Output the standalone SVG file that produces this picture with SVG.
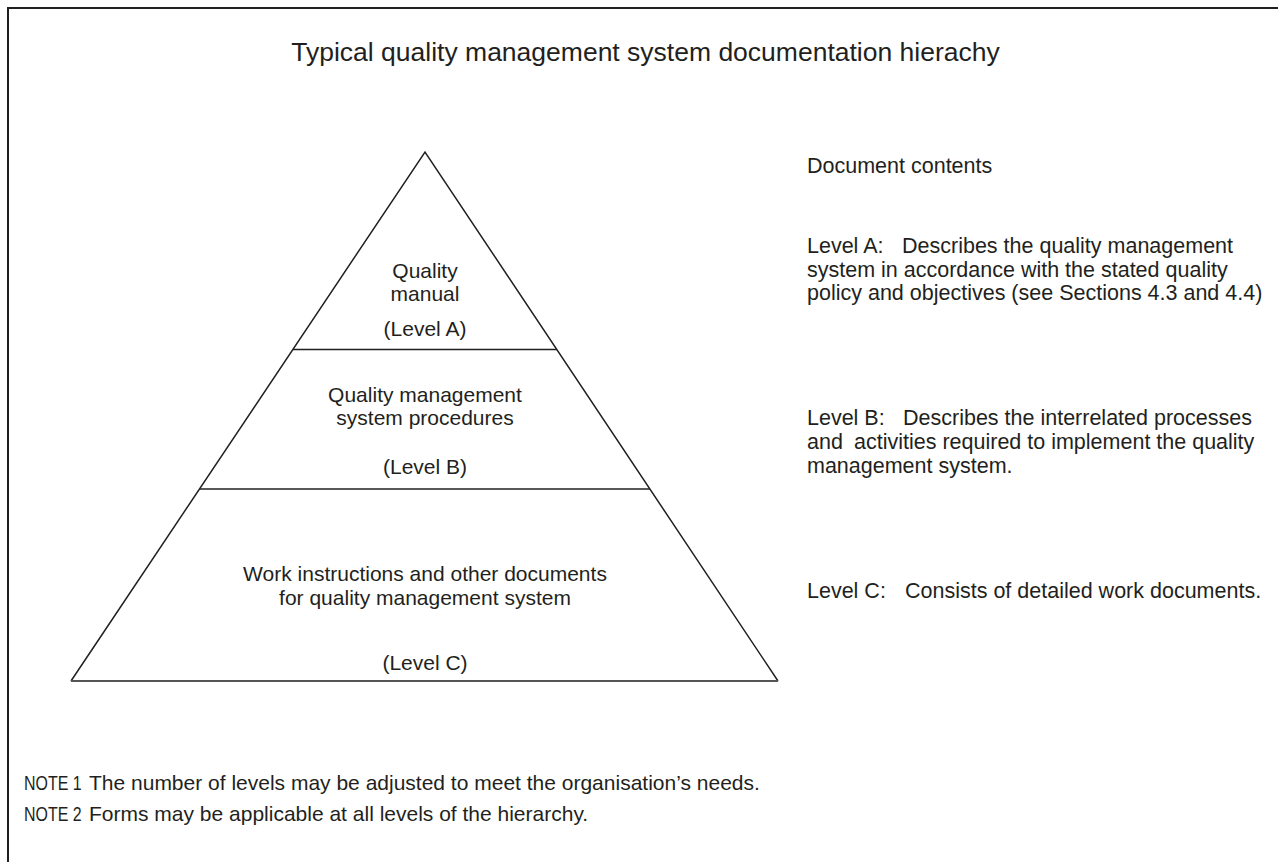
<svg xmlns="http://www.w3.org/2000/svg" width="1278" height="862" viewBox="0 0 1278 862">
<style>
text{font-family:"Liberation Sans",Arial,sans-serif;fill:#231f20;font-size:21.5px}
.c{text-anchor:middle}
.p{font-size:21px}
.t{font-size:26.5px}
.n{font-size:21px}
.ln{stroke:#231f20;stroke-width:1.5;fill:none}
</style>
<rect width="1278" height="862" fill="#fff"/>
<path d="M8,862 V8 H1278" fill="none" stroke="#231f20" stroke-width="2"/>
<text class="t c" x="645.5" y="61">Typical quality management system documentation hierachy</text>
<g id="connectors">
<path class="ln" d="M71,681 L425,152 L778,681"/>
<path d="M71,681 H778" stroke="#555" stroke-width="2.2"/>
</g>
<g id="levelA">
<path class="ln" d="M293,349.5 H557"/>
<text class="c p" x="425" y="278">Quality</text>
<text class="c p" x="425" y="301">manual</text>
<text class="c p" x="425" y="336">(Level A)</text>
</g>
<g id="levelB">
<path class="ln" d="M200,489 H650"/>
<text class="c p" x="425" y="402">Quality management</text>
<text class="c p" x="425" y="425">system procedures</text>
<text class="c p" x="425" y="474">(Level B)</text>
</g>
<g id="levelC">
<text class="c p" x="425" y="581">Work instructions and other documents</text>
<text class="c p" x="425" y="605">for quality management system</text>
<text class="c p" x="425" y="670">(Level C)</text>
</g>
<g id="contents">
<text x="807" y="173">Document contents</text>
<text x="807" y="253">Level A:<tspan x="902">Describes the quality management</tspan></text>
<text x="807" y="277">system in accordance with the stated quality</text>
<text x="807" y="300">policy and objectives (see Sections 4.3 and 4.4)</text>
<text x="807" y="425">Level B:<tspan x="903">Describes the interrelated processes</tspan></text>
<text x="807" y="449">and<tspan x="854">activities required to implement the quality</tspan></text>
<text x="807" y="473">management system.</text>
<text x="807" y="598">Level C:<tspan x="905">Consists of detailed work documents.</tspan></text>
</g>
<g id="notes">
<text class="n" transform="translate(24,790) scale(0.76,1)">NOTE 1</text>
<text class="n" x="89" y="790">The number of levels may be adjusted to meet the organisation’s needs.</text>
<text class="n" transform="translate(24,821) scale(0.76,1)">NOTE 2</text>
<text class="n" x="89" y="821">Forms may be applicable at all levels of the hierarchy.</text>
</g>
</svg>
